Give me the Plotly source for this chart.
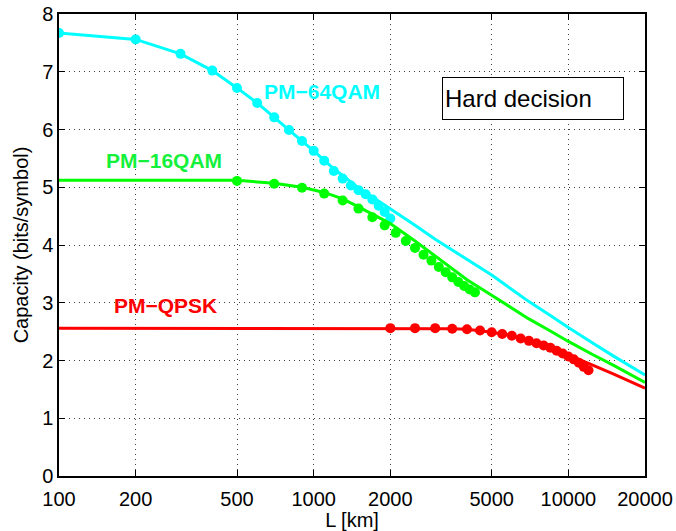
import math
import plotly.graph_objects as go

# ---- data ----
L_64_pts = [100, 200, 300, 400, 500, 600, 700, 800, 900, 1000,
            1100, 1200, 1300, 1400, 1500, 1600, 1700, 1800, 1900, 2000]
C_64_pts = [7.67, 7.56, 7.31, 7.02, 6.72, 6.46, 6.21, 5.99, 5.80, 5.63,
            5.46, 5.28, 5.15, 5.03, 4.95, 4.88, 4.79, 4.68, 4.57, 4.46]

L_16_pts = [500, 700, 900, 1100, 1300, 1500, 1700, 1900, 2100, 2300,
            2500, 2700, 2900, 3100, 3300, 3500, 3700, 3900, 4100, 4300]
C_16_pts = [5.11, 5.06, 4.99, 4.89, 4.77, 4.63, 4.48, 4.34, 4.21, 4.07,
            3.95, 3.83, 3.73, 3.62, 3.53, 3.44, 3.36, 3.29, 3.23, 3.18]

L_qp_pts = [2000, 2500, 3000, 3500, 4000, 4500, 5000, 5500, 6000, 6500, 7000,
            7500, 8000, 8500, 9000, 9500, 10000, 10500, 11000, 11500, 12000]
C_qp_pts = [2.56, 2.56, 2.56, 2.55, 2.54, 2.52, 2.49, 2.46, 2.43, 2.38, 2.34,
            2.30, 2.26, 2.22, 2.17, 2.12, 2.07, 2.02, 1.96, 1.89, 1.83]

L_64_line = [100, 200, 300, 400, 500, 600, 700, 800, 900, 1000, 1200, 1500,
             2000, 2500, 3000, 4000, 5000, 6000, 7000, 8500, 10000, 12500, 15000, 20000]
C_64_line = [7.67, 7.56, 7.31, 7.02, 6.72, 6.46, 6.21, 6.00, 5.80, 5.63, 5.32, 4.99,
             4.63, 4.34, 4.10, 3.75, 3.48, 3.23, 3.02, 2.78, 2.57, 2.30, 2.08, 1.75]

L_16_line = [100, 200, 500, 700, 900, 1100, 1300, 1500, 1700, 2000, 2500, 3000,
             3500, 4000, 5000, 6000, 7000, 8500, 10000, 12500, 15000, 20000]
C_16_line = [5.12, 5.12, 5.12, 5.07, 5.00, 4.91, 4.80, 4.66, 4.53, 4.37, 4.07, 3.81,
             3.59, 3.40, 3.13, 2.91, 2.72, 2.51, 2.33, 2.10, 1.92, 1.62]

L_qp_line = [100, 1000, 2000, 3000, 3500, 4000, 4500, 5000, 6000, 7000, 8000, 9000,
             10000, 12000, 15000, 20000]
C_qp_line = [2.56, 2.56, 2.56, 2.56, 2.55, 2.54, 2.52, 2.49, 2.43, 2.35, 2.27, 2.18,
             2.10, 1.95, 1.77, 1.52]

x_ticks = [100, 200, 500, 1000, 2000, 5000, 10000, 20000]
x_tick_text = ["100", "200", "500", "1000", "2000", "5000", "10000", "20000"]

CYAN = "#00FFFF"
GREEN = "#00FF00"
RED = "#FF0000"

fig = go.Figure()
for Ll, Cl, Lp, Cp, col in [
    (L_64_line, C_64_line, L_64_pts, C_64_pts, CYAN),
    (L_16_line, C_16_line, L_16_pts, C_16_pts, GREEN),
    (L_qp_line, C_qp_line, L_qp_pts, C_qp_pts, RED),
]:
    fig.add_trace(go.Scatter(x=Ll, y=Cl, mode="lines",
                             line=dict(color=col, width=3),
                             showlegend=False, hoverinfo="skip"))
    fig.add_trace(go.Scatter(x=Lp, y=Cp, mode="markers",
                             marker=dict(color=col, size=10, line=dict(width=0)),
                             showlegend=False))

font = "Liberation Sans, Arial, Helvetica, sans-serif"
labels = [("PM\u221264QAM", 1080, 6.66, CYAN),
          ("PM\u221216QAM", 259, 5.47, "rgb(20,240,60)"),
          ("PM\u2212QPSK", 263, 2.96, RED)]
for t, x, y, c in labels:
    fig.add_annotation(x=math.log10(x), y=y, text="<b>" + t + "</b>",
                       showarrow=False, font=dict(family=font, size=21, color=c),
                       xanchor="center", yanchor="middle")

fig.add_annotation(xref="paper", yref="paper", x=0.6536, y=0.8636,
                   xanchor="left", yanchor="top", text="Hard decision",
                   showarrow=False, align="left", width=176, height=37, borderpad=2,
                   bordercolor="#000000", borderwidth=1, bgcolor="white",
                   font=dict(family=font, size=24, color="black"))

axis_common = dict(showline=True, linecolor="black", linewidth=1.5, mirror="ticks",
                   ticks="inside", ticklen=6, tickcolor="black", automargin=False,
                   showgrid=True, gridcolor="rgba(0,0,0,0.75)", gridwidth=1,
                   griddash="1px,4px", zeroline=False,
                   tickfont=dict(family=font, size=20, color="black"))

fig.update_xaxes(type="log", range=[2, 4.30103], tickvals=x_ticks, ticktext=x_tick_text,
                 ticklabelstandoff=4,
                 title=dict(text="L [km]", font=dict(family=font, size=20, color="black"),
                            standoff=0),
                 **axis_common)
fig.update_yaxes(range=[0, 8], dtick=1, tick0=0,
                 title=dict(text="Capacity (bits/symbol)",
                            font=dict(family=font, size=20, color="black"), standoff=8),
                 **axis_common)

fig.update_layout(width=676, height=531, margin=dict(l=59, r=31, t=14, b=55),
                  paper_bgcolor="white", plot_bgcolor="white", showlegend=False)

fig.write_html("out.html")
